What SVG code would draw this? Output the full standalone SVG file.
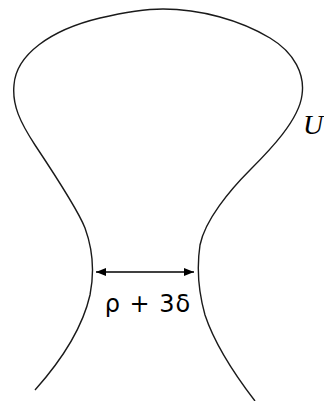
<svg xmlns="http://www.w3.org/2000/svg" width="324" height="401" viewBox="0 0 324 401">
<style>
.curve{fill:none;stroke:#1a1a1a;stroke-width:1.4}
.ulbl{font-family:"Liberation Serif",serif;font-style:italic;font-size:28px;fill:#000}
.wlbl{font-family:"DejaVu Sans",sans-serif;font-size:24px;fill:#000;letter-spacing:1px}
</style>
<defs>
<marker id="ah" viewBox="0 0 10 8" refX="10" refY="4" markerWidth="10" markerHeight="8" markerUnits="userSpaceOnUse" orient="auto-start-reverse">
<path d="M0,0 L10,4 L0,8 z" fill="#000"/>
</marker>
</defs>
<rect width="324" height="401" fill="#fff"/>
<g id="region-U">
<path class="curve" d="M35,390 C60,362 82,330 90,295 C95,270 93,250 85,228 C78,210 55,175 35,145 C20,122 12,105 14,85 C16,55 50,30 100,18 C130,11 150,9 163,9 C200,9 240,20 270,38 C295,53 305,75 302,95 C299,120 270,150 250,170 C230,190 205,220 200,245 C197,265 198,290 205,315 C215,345 235,375 255,401"/>
<text class="ulbl" x="303" y="134">U</text>
</g>
<g id="connectors">
<line x1="96" y1="272" x2="194" y2="272" stroke="#000" stroke-width="1.5" marker-start="url(#ah)" marker-end="url(#ah)"/>
</g>
<g id="label-width">
<text class="wlbl" x="148" y="312" text-anchor="middle">ρ + 3δ</text>
</g>
</svg>
